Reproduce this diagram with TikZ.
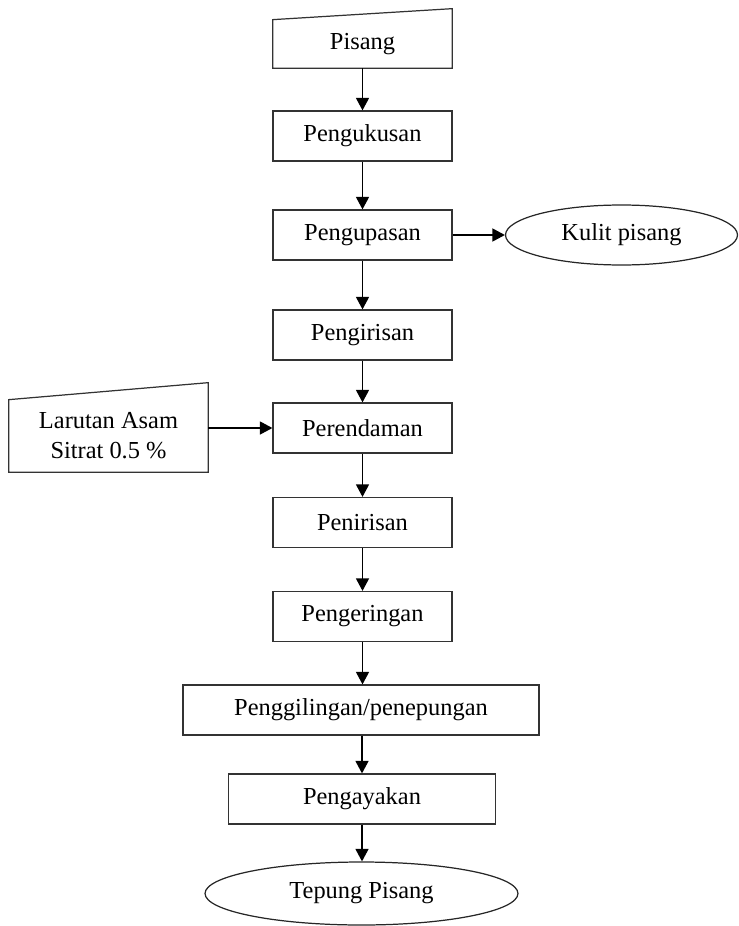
\documentclass[tikz,border=0pt]{standalone}
\usepackage{fontspec}
\setmainfont{Liberation Serif}
\usetikzlibrary{shapes.geometric,arrows.meta}

\tikzset{
  stepbox/.style={draw=black!80, line width=0.7pt, rectangle, minimum width=3.58cm,
    minimum height=1cm, inner sep=0pt},
  inbox/.style={rectangle, minimum width=3.58cm, minimum height=0.96cm, inner sep=0pt, align=center},
  outoval/.style={draw=black!85, line width=0.7pt, ellipse, inner sep=0pt},
  flow/.style={line width=0.8pt, -{Triangle[length=0.25cm, width=0.26cm]}}
}

\begin{document}
\begin{tikzpicture}[x=0.02cm, y=-0.02cm, font=\fontsize{13.9pt}{17pt}\selectfont]
        \useasboundingbox (0,0) rectangle (739,926);

        % Input
        \node[inbox] (pisang) at (362.5,44) {Pisang};
        \draw[draw=black!80, line width=0.7pt] (pisang.south west) -- (pisang.south east)
          -- ([shift={(0,-11)}]pisang.north east) -- (pisang.north west) -- cycle;

        % Process steps
        \node[stepbox] (kukus)  at (362.5,136) {Pengukusan};
        \node[stepbox] (kupas)  at (362.5,235) {Pengupasan};
        \node[stepbox] (iris)   at (362.5,335) {Pengirisan};
        \node[stepbox] (rendam) at (362.5,428) {Perendaman};
        \node[stepbox] (tiris)  at (362.5,522.5) {Penirisan};
        \node[stepbox] (kering) at (362.5,616.5) {Pengeringan};
        \node[stepbox, minimum width=7.12cm] (giling) at (361,710) {Penggilingan/penepungan};
        \node[stepbox, minimum width=5.34cm] (ayak) at (362,799) {Pengayakan};

        % Side streams
        \node[outoval, minimum width=4.64cm, minimum height=1.2cm] (kulit) at (621.5,235) {Kulit pisang};
        \node[inbox, minimum width=3.98cm, minimum height=1.44cm] (larutan) at (108.5,436)
          {Larutan Asam\\Sitrat 0.5 \%};
        \draw[draw=black!80, line width=0.7pt] (larutan.south west) -- (larutan.south east)
          -- ([shift={(0,-17)}]larutan.north east) -- (larutan.north west) -- cycle;

        % Output
        \node[outoval, minimum width=6.26cm, minimum height=1.26cm] (tepung) at (361.5,893.5) {Tepung Pisang};

        % Arrows
        \draw[flow] (pisang) -- (kukus);
        \draw[flow] (kukus) -- (kupas);
        \draw[flow] (kupas) -- (iris);
        \draw[flow] (iris) -- (rendam);
        \draw[flow] (rendam) -- (tiris);
        \draw[flow] (tiris) -- (kering);
        \draw[flow] (kering.south) -- (kering.south |- giling.north);
        \draw[flow] (giling.south -| ayak.north) -- (ayak.north);
        \draw[flow] (ayak.south) -- (ayak.south |- tepung.north);
        \draw[flow] (kupas) -- (kulit);
        \draw[flow] (larutan.east |- rendam.west) -- (rendam.west);

    \end{tikzpicture}
\end{document}
